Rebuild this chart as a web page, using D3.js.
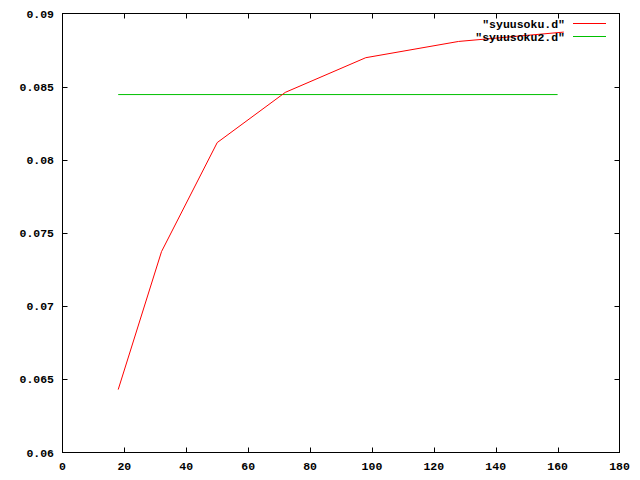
<!DOCTYPE html>
<html><head><meta charset="utf-8">
<script src="https://cdn.jsdelivr.net/npm/d3@7"></script>
<style>body{margin:0;background:#fff}svg{display:block}text{font-family:"Liberation Mono","DejaVu Sans Mono",monospace;font-weight:bold;font-size:11.5px;fill:#000}</style>
</head><body><svg id="c" width="640" height="480"></svg>
<script>
const xValues = [18, 32, 50, 72, 98, 128, 162];
const yValues = [0.0643, 0.07373, 0.08118, 0.08461, 0.08698, 0.08809, 0.08873];
const constX = [18, 160];
const constY = [0.08446, 0.08446];
const xTicks = [0, 20, 40, 60, 80, 100, 120, 140, 160, 180];
const yTicks = [0.06, 0.065, 0.07, 0.075, 0.08, 0.085, 0.09];
const seriesNames = ['"syuusoku.d"', '"syuusoku2.d"'];
const colors = ["#ff0000", "#00c000"];

const svg = d3.select("#c");
const L = 62.5, R = 619.5, T = 13.5, B = 452.5;
const x = d3.scaleLinear().domain([0, 180]).range([L, R]);
const y = d3.scaleLinear().domain([0.06, 0.09]).range([B, T]);

// frame
svg.append("rect").attr("x", L).attr("y", T).attr("width", R - L).attr("height", B - T)
  .attr("fill", "none").attr("stroke", "#000").attr("stroke-width", 1);

const tl = 5;
// x ticks (inward, bottom and top mirrored)
const gx = svg.append("g");
xTicks.forEach(v => {
  const px = Math.round(x(v)) + 0.5;
  if (v > 0 && v < 180) {
    gx.append("line").attr("x1", px).attr("x2", px).attr("y1", B).attr("y2", B - tl).attr("stroke", "#000");
    gx.append("line").attr("x1", px).attr("x2", px).attr("y1", T).attr("y2", T + tl).attr("stroke", "#000");
  }
  gx.append("text").attr("x", x(v)).attr("y", 470).attr("text-anchor", "middle").text(v);
});
const gy = svg.append("g");
yTicks.forEach(v => {
  const py = Math.round(y(v)) + 0.5;
  if (v > 0.0601 && v < 0.0899) {
    gy.append("line").attr("x1", L).attr("x2", L + tl).attr("y1", py).attr("y2", py).attr("stroke", "#000");
    gy.append("line").attr("x1", R).attr("x2", R - tl).attr("y1", py).attr("y2", py).attr("stroke", "#000");
  }
  gy.append("text").attr("x", 54).attr("y", y(v) + 4).attr("text-anchor", "end").text(String(v));
});

const line = d3.line().x(d => x(d[0])).y(d => y(d[1]));
svg.append("path").datum(constX.map((v, i) => [v, constY[i]])).attr("d", line)
  .attr("fill", "none").attr("stroke", colors[1]).attr("stroke-width", 1);
svg.append("path").datum(xValues.map((v, i) => [v, yValues[i]])).attr("d", line)
  .attr("fill", "none").attr("stroke", colors[0]).attr("stroke-width", 1);

// legend
seriesNames.forEach((n, i) => {
  const ly = 23.5 + i * 13;
  svg.append("text").attr("x", 565).attr("y", ly + 4).attr("text-anchor", "end").text(n);
  svg.append("line").attr("x1", 573).attr("x2", 606).attr("y1", ly).attr("y2", ly)
    .attr("stroke", colors[i]).attr("stroke-width", 1);
});
</script></body></html>
